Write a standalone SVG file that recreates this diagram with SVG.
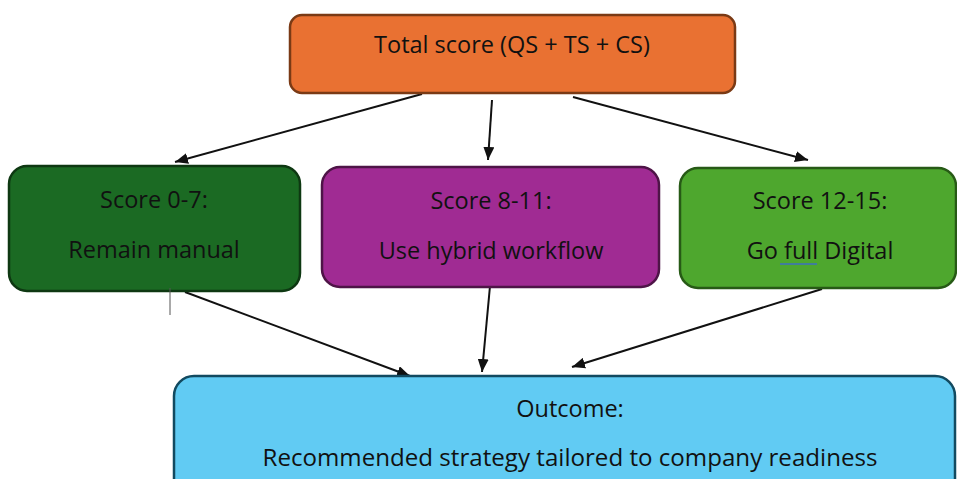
<svg xmlns="http://www.w3.org/2000/svg" width="957" height="479" viewBox="0 0 957 479">
<style>
.t{font-family:"Open Sans","Liberation Sans",sans-serif;font-size:23.5px;fill:#111;text-anchor:middle}
.box{stroke-width:2.5}
.c{stroke:#111;stroke-width:2;fill:none;marker-end:url(#ah)}
</style>
<defs>
<marker id="ah" viewBox="0 0 13 11" refX="13" refY="5.5" markerWidth="13" markerHeight="11" markerUnits="userSpaceOnUse" orient="auto">
<path d="M0,0 L13,5.5 L0,11 z" fill="#111"/>
</marker>
</defs>
<rect width="957" height="479" fill="#fff"/>
<g id="connectors">
<line class="c" x1="422" y1="94" x2="175" y2="162"/>
<line class="c" x1="492" y1="100" x2="488" y2="160"/>
<line class="c" x1="573" y1="97" x2="808" y2="160"/>
<line class="c" x1="185" y1="292" x2="410" y2="376"/>
<line class="c" x1="490" y1="286" x2="482" y2="372"/>
<line class="c" x1="822" y1="289" x2="572" y2="367"/>
</g>
<g id="total">
<rect class="box" x="290" y="15" width="445" height="78" rx="12" fill="#E97132" stroke="#7A3A15"/>
<text class="t" x="512" y="53">Total score (QS + TS + CS)</text>
</g>
<g id="manual">
<rect class="box" x="9" y="166" width="291" height="125" rx="18" fill="#1B6A23" stroke="#0E3812"/>
<text class="t" x="154" y="208">Score 0-7:</text>
<text class="t" x="154" y="258">Remain manual</text>
</g>
<g id="hybrid">
<rect class="box" x="322" y="167" width="337" height="120" rx="18" fill="#A02B93" stroke="#4E1447"/>
<text class="t" x="491" y="209">Score 8-11:</text>
<text class="t" x="491" y="259">Use hybrid workflow</text>
</g>
<g id="digital">
<rect class="box" x="680" y="168" width="276" height="120" rx="18" fill="#4EA72E" stroke="#275A16"/>
<text class="t" x="820" y="209">Score 12-15:</text>
<text class="t" x="820" y="259">Go full Digital</text>
<line x1="780" y1="264" x2="817" y2="264" stroke="#3C6FC0" stroke-width="1.5"/>
</g>
<g id="outcome">
<rect class="box" x="174" y="376" width="781" height="130" rx="20" fill="#61CBF3" stroke="#124A60"/>
<text class="t" x="570" y="417">Outcome:</text>
<text class="t" x="570" y="466" textLength="615" lengthAdjust="spacingAndGlyphs">Recommended strategy tailored to company readiness</text>
</g>
<line x1="170" y1="288" x2="170" y2="315" stroke="#555" stroke-width="1"/>
</svg>
